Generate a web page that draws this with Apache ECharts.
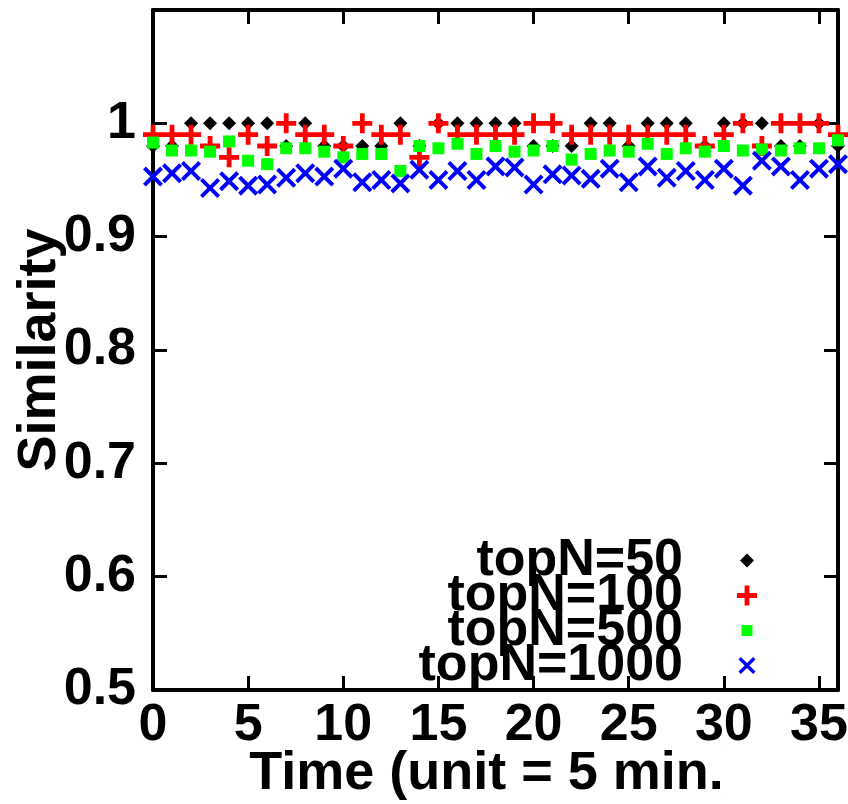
<!DOCTYPE html>
<html><head><meta charset="utf-8">
<script src="https://cdn.jsdelivr.net/npm/echarts@6/dist/echarts.min.js"></script>
<style>html,body{margin:0;padding:0;background:#fff}#c{width:848px;height:804px}</style>
</head><body><div id="c"></div>
<script>
const times = [0,1,2,3,4,5,6,7,8,9,10,11,12,13,14,15,16,17,18,19,20,21,22,23,24,25,26,27,28,29,30,31,32,33,34,35,36];
const seriesNames = ['topN=50','topN=100','topN=500','topN=1000'];
const top50 = [0.98,0.98,1.0,1.0,1.0,1.0,1.0,0.98,1.0,0.98,0.98,0.98,0.98,1.0,0.98,1.0,1.0,1.0,1.0,1.0,0.98,0.98,0.98,1.0,1.0,0.98,1.0,1.0,1.0,0.98,1.0,1.0,1.0,0.98,0.98,1.0,0.98];
const top100 = [0.99,0.99,0.99,0.98,0.97,0.99,0.98,1.0,0.99,0.99,0.98,1.0,0.99,0.99,0.97,1.0,0.99,0.99,0.99,0.99,1.0,1.0,0.99,0.99,0.99,0.99,0.99,0.99,0.99,0.98,0.99,1.0,0.98,1.0,1.0,1.0,0.99];
const top500 = [0.983,0.976,0.976,0.975,0.984,0.967,0.964,0.978,0.978,0.975,0.970,0.973,0.973,0.958,0.980,0.978,0.982,0.973,0.980,0.975,0.976,0.980,0.968,0.973,0.976,0.975,0.982,0.973,0.978,0.975,0.980,0.976,0.977,0.976,0.978,0.978,0.985];
const top1000 = [0.953,0.956,0.958,0.943,0.949,0.945,0.946,0.952,0.956,0.953,0.960,0.948,0.950,0.947,0.959,0.950,0.958,0.950,0.962,0.961,0.946,0.955,0.954,0.951,0.960,0.948,0.962,0.952,0.958,0.950,0.960,0.945,0.967,0.962,0.950,0.960,0.964];
const xTitle = 'Time (unit = 5 min.)';
const yTitle = 'Similarity';

const FONT = "'Liberation Sans', Arial, Helvetica, sans-serif";
const DIAMOND = 'path://M5,0L10,5L5,10L0,5Z';
const PLUS = 'path://M3.8,0H6.2V3.8H10V6.2H6.2V10H3.8V6.2H0V3.8H3.8Z';
const SQUARE = 'path://M0,0H10V10H0Z';
const CROSS = 'path://M0,1.4L1.4,0L5,3.6L8.6,0L10,1.4L6.4,5L10,8.6L8.6,10L5,6.4L1.4,10L0,8.6L3.6,5Z';
const allValues = [top50, top100, top500, top1000];
const colors = ['#000000','#ff0000','#00ff00','#0000ff'];
const symbols = [DIAMOND, PLUS, SQUARE, CROSS];
const sizes = [14, 20, 12, 20];
const legendIcon = [14, 20, 11, 17];
const legendCenters = [552, 587, 622, 657];
const ICON_CX = 747, TEXT_RIGHT = 683;

const axisLine = {show:true, onZero:false, lineStyle:{color:'#000', width:4}};
const tick = {show:true, inside:true, length:14, lineStyle:{color:'#000', width:3}};
const labelStyle = {color:'#000', fontSize:52, fontWeight:'bold', fontFamily:FONT};

const chart = echarts.init(document.getElementById('c'), null, {renderer:'canvas'});
chart.setOption({
  animation:false,
  backgroundColor:'#fff',
  grid:{left:153, right:10, top:10, bottom:114, containLabel:false, outerBoundsMode:'none'},
  xAxis:[
    {type:'value', min:0, max:36, interval:5, position:'bottom',
     axisLine, axisTick:tick, splitLine:{show:false},
     axisLabel:Object.assign({margin:10}, labelStyle),
     name:xTitle, nameLocation:'middle', nameGap:57, nameMoveOverlap:false,
     nameTextStyle:Object.assign({}, labelStyle, {fontSize:54})},
    {type:'value', min:0, max:36, interval:5, position:'top',
     axisLine, axisTick:tick, splitLine:{show:false}, axisLabel:{show:false}}
  ],
  yAxis:[
    {type:'value', min:0.5, max:1.1, interval:0.1, position:'left',
     axisLine, axisTick:tick, splitLine:{show:false},
     axisLabel:Object.assign({margin:17, formatter:v => v > 1.05 ? '' : String(Math.round(v*10)/10)}, labelStyle),
     name:yTitle, nameLocation:'middle', nameGap:86, nameRotate:90, nameMoveOverlap:false,
     nameTextStyle:Object.assign({}, labelStyle, {fontSize:54})},
    {type:'value', min:0.5, max:1.1, interval:0.1, position:'right',
     axisLine, axisTick:tick, splitLine:{show:false}, axisLabel:{show:false}}
  ],
  legend: seriesNames.map((n, k) => {
    const s = legendIcon[k];
    return {
      data:[n], orient:'vertical', align:'right', selectedMode:false,
      right: 848 - (ICON_CX + s/2), top: legendCenters[k] - 17.5, padding:0, itemGap:0,
      itemWidth:s, itemHeight:s,
      textStyle:Object.assign({lineHeight:35, padding:[0, (ICON_CX - s/2) - 5 - TEXT_RIGHT, 0, 0]}, labelStyle)
    };
  }),
  series: seriesNames.map((n, k) => ({
    name:n, type:'scatter', xAxisIndex:0, yAxisIndex:0,
    symbol:symbols[k], symbolSize:sizes[k],
    itemStyle:{color:colors[k], opacity:1},
    emphasis:{disabled:true},
    data: times.map((t, i) => [t, allValues[k][i]])
  })),
  graphic:[
    {type:'rect', left:724, top:742, shape:{width:124, height:62}, style:{fill:'#fff'}, z:1000}
  ]
});
</script>
</body></html>
